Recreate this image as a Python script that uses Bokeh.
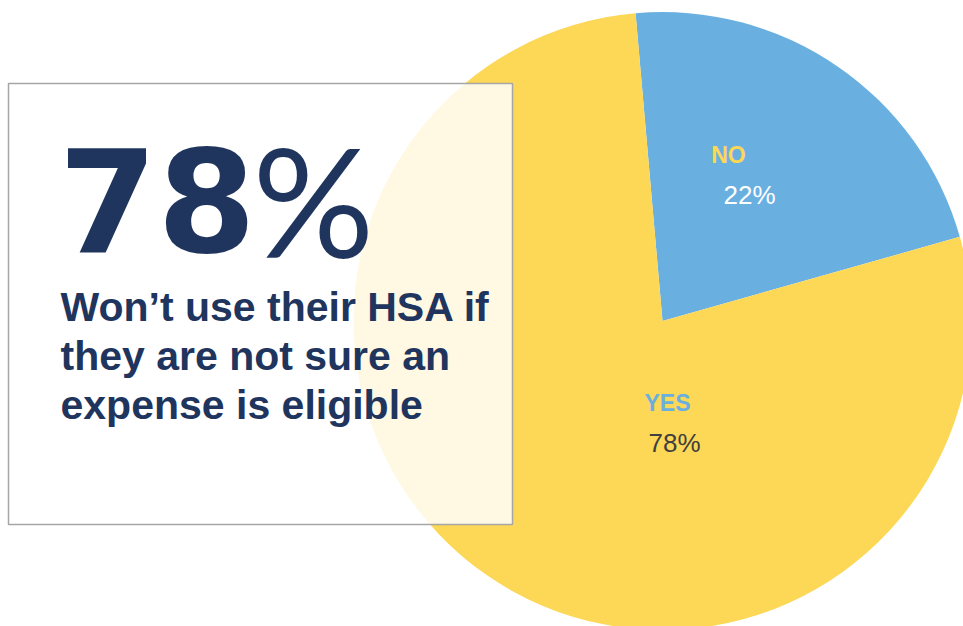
import math
from bokeh.plotting import figure
from bokeh.models import ColumnDataSource
from bokeh.core.properties import value
from bokeh.embed import file_html
from bokeh.resources import INLINE

# ---- data ----
categories = ["NO", "YES"]
values = [22, 78]
pct_labels = ["22%", "78%"]
headline = "78"
headline_sign = "%"
sub_lines = ["Won\u2019t use their HSA if", "they are not sure an", "expense is eligible"]

W, H = 963, 626
p = figure(width=W, height=H, x_range=(0, W), y_range=(0, H),
           output_backend="svg", toolbar_location=None, min_border=0)
p.axis.visible = False
p.grid.visible = False
p.outline_line_color = None
p.background_fill_color = "white"
p.border_fill_color = "white"

cx, cy, R = 662, H - 320.5, 309
colors = ["#69B0E1", "#FDD756"]

# slices go clockwise, starting slightly left of 12 o'clock
start_deg = 95.0
total = sum(values)
starts, ends = [], []
cur = start_deg
for v in values:
    nxt = cur - v / total * 360.0
    starts.append(math.radians(nxt))
    ends.append(math.radians(cur))
    cur = nxt

src = ColumnDataSource(dict(start=starts, end=ends, color=colors, cat=categories))
p.wedge(x=cx, y=cy, radius=R, start_angle="start", end_angle="end",
        fill_color="color", line_color=None, source=src)

# slice labels
p.text(x=[728], y=[H - 154], text=[categories[0]], text_color="#FDD756",
       text_font=value("Liberation Sans"), text_font_style="bold", text_font_size="23px",
       text_align="center", text_baseline="middle")
p.text(x=[749], y=[H - 194], text=[pct_labels[0]], text_color="white",
       text_font=value("Liberation Sans"), text_font_size="26px",
       text_align="center", text_baseline="middle")
p.text(x=[667], y=[H - 402], text=[categories[1]], text_color="#69B0E1",
       text_font=value("Liberation Sans"), text_font_style="bold", text_font_size="23px",
       text_align="center", text_baseline="middle")
p.text(x=[674], y=[H - 442], text=[pct_labels[1]], text_color="#404040",
       text_font=value("Liberation Sans"), text_font_size="26px",
       text_align="center", text_baseline="middle")

# overlay box
p.quad(left=8, right=512, top=H - 83, bottom=H - 524, fill_color="white",
       fill_alpha=0.83, line_color="#A6A6A6", line_width=1.5)

navy = "#1F355E"
p.text(x=[58], y=[H - 199], text=[headline], text_color=navy,
       text_font=value("DejaVu Sans"), text_font_style="bold", text_font_size="142px",
       text_align="left", text_baseline="alphabetic")
p.text(x=[252], y=[H - 198], text=[headline_sign], text_color=navy,
       text_font=value("Lato"), text_font_size="152px",
       text_align="left", text_baseline="alphabetic")

base_y = [306, 355, 404]
p.text(x=[60] * 3, y=[H - b for b in base_y], text=sub_lines, text_color=navy,
       text_font=value("Liberation Sans"), text_font_style="bold", text_font_size="41px",
       text_align="left", text_baseline="alphabetic")

open("out.html", "w").write(file_html(p, INLINE))
